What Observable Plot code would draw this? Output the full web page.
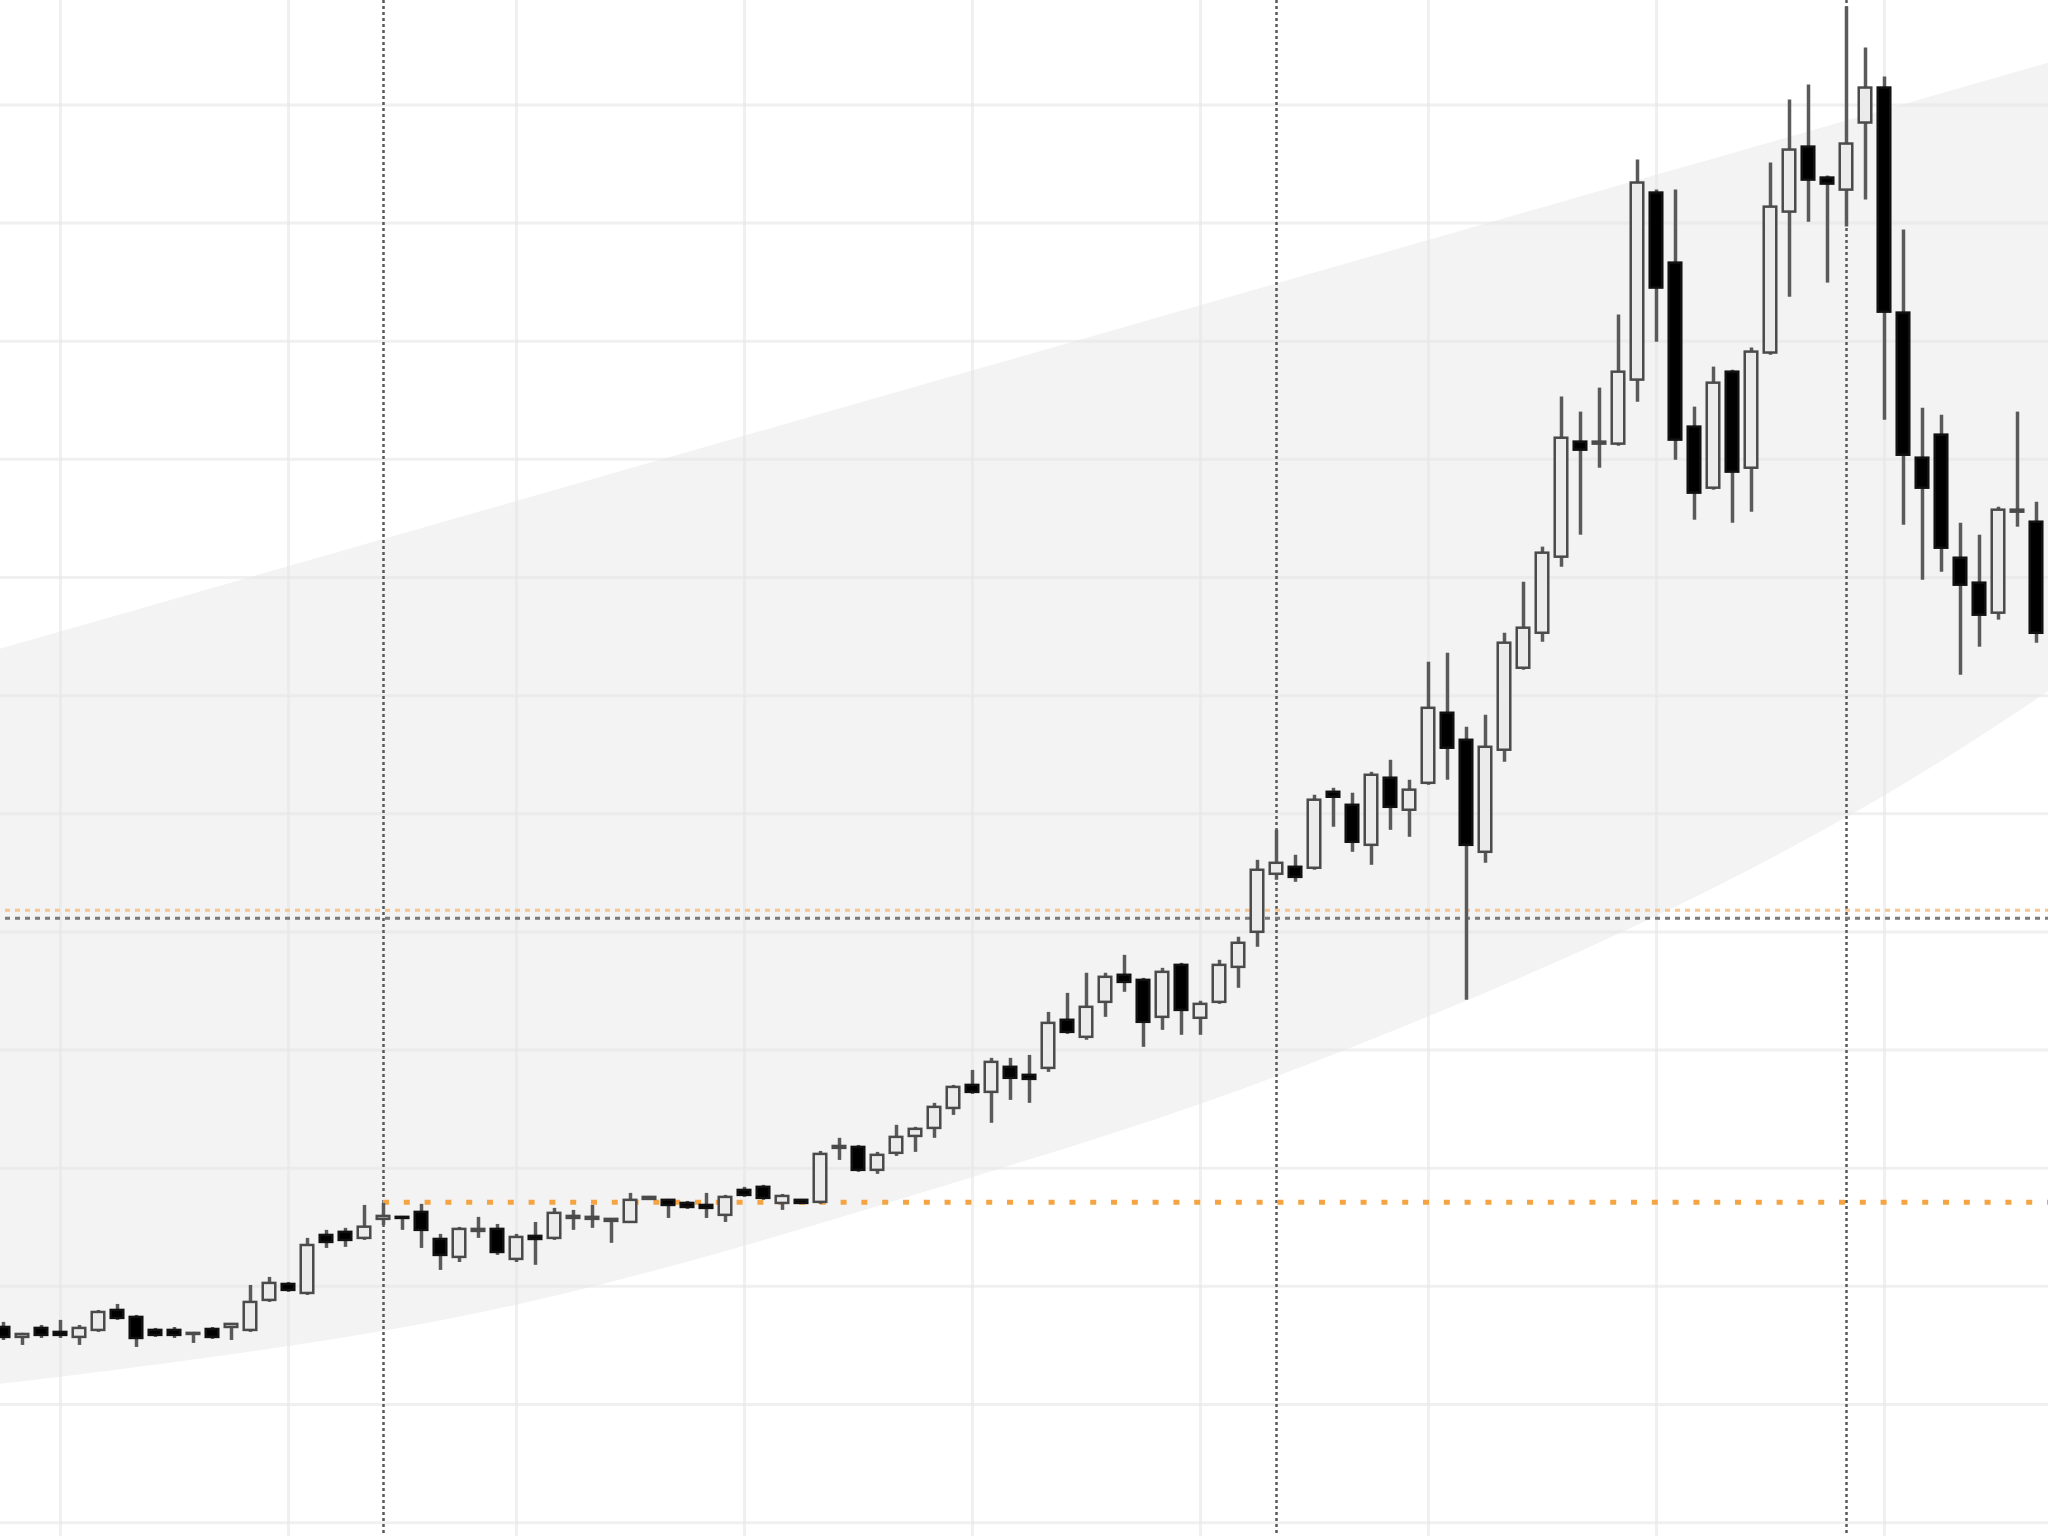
<!DOCTYPE html>
<html>
<head>
<meta charset="utf-8">
<script src="https://cdn.jsdelivr.net/npm/d3@7"></script>
<script src="https://cdn.jsdelivr.net/npm/@observablehq/plot@0.6"></script>
<style>
  html, body { margin: 0; padding: 0; background: #fff; overflow: hidden; }
  #chart svg { display: block; }
</style>
</head>
<body>
<div id="chart"></div>
<script>
// ---- data (arbitrary price units) ----
const idxStart = -3; // index of first candle

const opens = [26.52,25.68,26.44,26.10,25.68,26.27,27.96,27.37,26.27,26.27,25.93,26.35,26.52,26.27,28.81,30.16,29.40,34.31,34.57,34.06,
  35.67,35.84,36.26,33.97,32.45,34.65,34.82,32.28,34.23,34.06,35.75,35.67,35.50,35.41,37.36,37.28,37.02,36.85,36.01,38.12,
  38.38,37.02,37.28,37.11,41.68,41.76,39.82,41.26,42.69,43.37,45.06,47.01,46.42,48.54,47.86,48.45,52.52,51.08,54.04,56.33,
  55.90,52.77,57.17,52.69,54.04,57.00,59.97,64.88,65.47,65.39,71.82,70.72,67.33,73.01,70.30,72.58,78.51,76.22,66.74,75.38,
  82.32,85.28,91.72,101.46,101.29,101.29,106.71,122.54,116.61,102.73,97.56,107.38,99.25,109.00,120.93,126.43,123.81,122.79,128.47,131.43,
  112.38,100.10,102.05,91.63,89.52,86.98,95.53,94.68];

const highs = [26.95,26.02,26.69,27.12,26.69,27.96,28.47,27.54,26.44,26.52,26.10,26.52,26.86,30.08,30.76,30.33,34.06,34.74,34.91,36.85,
  37.02,35.92,36.94,34.40,34.99,35.84,35.24,34.40,35.41,36.60,36.43,36.85,35.67,37.87,37.61,37.36,37.19,37.87,37.70,38.38,
  38.55,37.78,37.36,41.42,42.53,41.93,41.34,43.63,43.46,45.49,47.01,48.28,49.30,49.30,49.55,53.19,54.80,56.50,56.50,58.02,
  56.07,56.92,57.34,54.13,57.60,59.55,66.06,68.60,66.49,71.57,72.16,71.74,73.51,74.53,72.84,82.83,83.59,77.32,78.34,85.28,
  89.60,92.57,105.27,104.00,106.03,112.21,125.33,122.79,122.79,104.42,107.81,107.55,109.42,125.08,130.41,131.68,123.98,138.29,134.82,132.36,
  119.41,104.33,103.74,94.60,93.58,95.95,104.00,96.38];

const lows = [25.42,25.00,25.59,25.59,25.00,26.10,27.12,24.83,25.68,25.59,25.17,25.51,25.42,26.10,28.64,29.49,29.23,33.21,33.30,33.89,
  35.16,34.74,33.21,31.35,32.02,34.06,32.62,32.02,31.78,33.89,34.74,34.91,33.64,35.33,37.28,35.75,36.51,35.75,35.41,37.53,
  37.28,36.43,36.94,36.94,40.66,39.65,39.48,41.00,41.34,42.53,44.47,46.25,43.80,45.74,45.49,48.11,51.33,50.83,52.77,54.89,
  50.23,51.67,51.25,51.25,53.87,55.23,58.70,64.37,64.20,65.22,68.86,66.74,65.64,68.60,68.01,72.41,72.84,54.21,65.81,74.36,
  82.15,84.52,90.87,93.58,99.25,101.12,104.84,109.92,99.93,94.85,97.39,94.60,95.53,108.82,113.73,120.08,114.92,119.66,121.95,103.32,
  94.43,89.77,90.45,81.73,84.10,86.39,94.26,84.44];

const closes = [25.68,25.93,25.85,25.85,26.44,27.79,27.29,25.59,25.85,25.85,26.02,25.68,26.78,28.64,30.25,29.66,33.46,33.72,33.89,35.01,
  35.92,35.75,34.74,32.62,34.82,34.82,32.87,34.14,33.97,36.18,35.92,35.84,35.67,37.28,37.53,36.85,36.68,36.60,37.53,37.70,
  37.45,37.61,37.02,41.17,41.84,39.82,41.09,42.61,43.29,45.15,46.84,46.42,48.96,47.61,47.52,52.26,51.50,53.62,56.16,55.73,
  52.35,56.58,53.36,53.87,57.17,59.04,65.22,65.81,64.62,71.15,71.40,67.59,73.26,70.55,72.00,78.93,75.55,67.33,75.63,84.44,
  85.71,92.06,101.79,100.78,101.46,107.38,123.39,114.50,101.63,97.14,106.45,98.92,109.08,121.35,126.18,123.64,123.30,126.69,131.43,112.46,
  100.35,97.56,92.48,89.35,86.81,95.70,95.70,85.28];

// channel (grey band) edges
const bandIdx   = [-4, 0, 12, 24, 36, 48, 60, 72, 84, 96, 106];
const bandUpper = [83.54, 85.38, 90.91, 96.43, 101.95, 107.47, 113.0, 118.52, 124.04, 129.56, 134.16];
const bandLower = [21.6, 22.3, 24.9, 28.4, 33.4, 39.2, 45.4, 52.8, 61.3, 71.5, 81.8];

// grid ticks
const xGridIdx = [0, 12, 24, 36, 48, 60, 72, 84, 96];
const yGridVals = [10, 20, 30, 40, 50, 60, 70, 80, 90, 100, 110, 120, 130];

// marker lines
const markerIdx = [17, 64, 94];
const upperLevel = 61.83;
const greyLevel = 61.15;
const lowerLevel = 37.11;
const lowerLevelStart = 17;

// ---- build tables ----
const candles = opens.map((o, k) => ({
  i: idxStart + k, open: o, high: highs[k], low: lows[k], close: closes[k]
}));
const band = bandIdx.map((i, k) => ({i, upper: bandUpper[k], lower: bandLower[k]}));
const levelLines = [
  {y: upperLevel, x1: -5, x2: 110},
  {y: greyLevel, x1: -5, x2: 110},
  {y: lowerLevel, x1: lowerLevelStart, x2: 110}
];

const W = 2048, H = 1536;
const chart = Plot.plot({
  width: W,
  height: H,
  margin: 0,
  style: {background: "#ffffff"},
  x: {type: "linear", domain: [-60 / 19, (W - 60) / 19], axis: null},
  y: {type: "linear", domain: [8.827, 138.84], axis: null},
  marks: [
    Plot.areaY(band, {x: "i", y1: "lower", y2: "upper", curve: "natural", fill: "#f3f3f3"}),
    Plot.ruleX(xGridIdx, {stroke: "#e6e6e6", strokeOpacity: 0.6, strokeWidth: 3}),
    Plot.ruleY(yGridVals, {stroke: "#e6e6e6", strokeOpacity: 0.6, strokeWidth: 3}),
    Plot.ruleX(markerIdx, {stroke: "#5a5a5a", strokeWidth: 2.5, strokeDasharray: "3,3"}),
    Plot.ruleY([levelLines[0]], {y: "y", x1: "x1", x2: "x2", stroke: "#f6c592", strokeWidth: 3, strokeDasharray: "5,5"}),
    Plot.ruleY([levelLines[1]], {y: "y", x1: "x1", x2: "x2", stroke: "#7a7a7a", strokeWidth: 3, strokeDasharray: "5,5"}),
    Plot.ruleY([levelLines[2]], {y: "y", x1: "x1", x2: "x2", stroke: "#f4a443", strokeWidth: 5, strokeDasharray: "6,14.8"}),
    Plot.ruleX(candles, {x: "i", y1: "low", y2: "high", stroke: "#5a5a5a", strokeWidth: 3.5}),
    Plot.rect(candles, {
      x1: d => d.i - 0.33,
      x2: d => d.i + 0.33,
      y1: "open",
      y2: "close",
      fill: d => d.close < d.open ? "#000000" : "#ebebeb",
      stroke: d => d.close < d.open ? "#111111" : "#4a4a4a",
      strokeWidth: 2.5
    })
  ]
});
document.getElementById("chart").appendChild(chart);
</script>
</body>
</html>
